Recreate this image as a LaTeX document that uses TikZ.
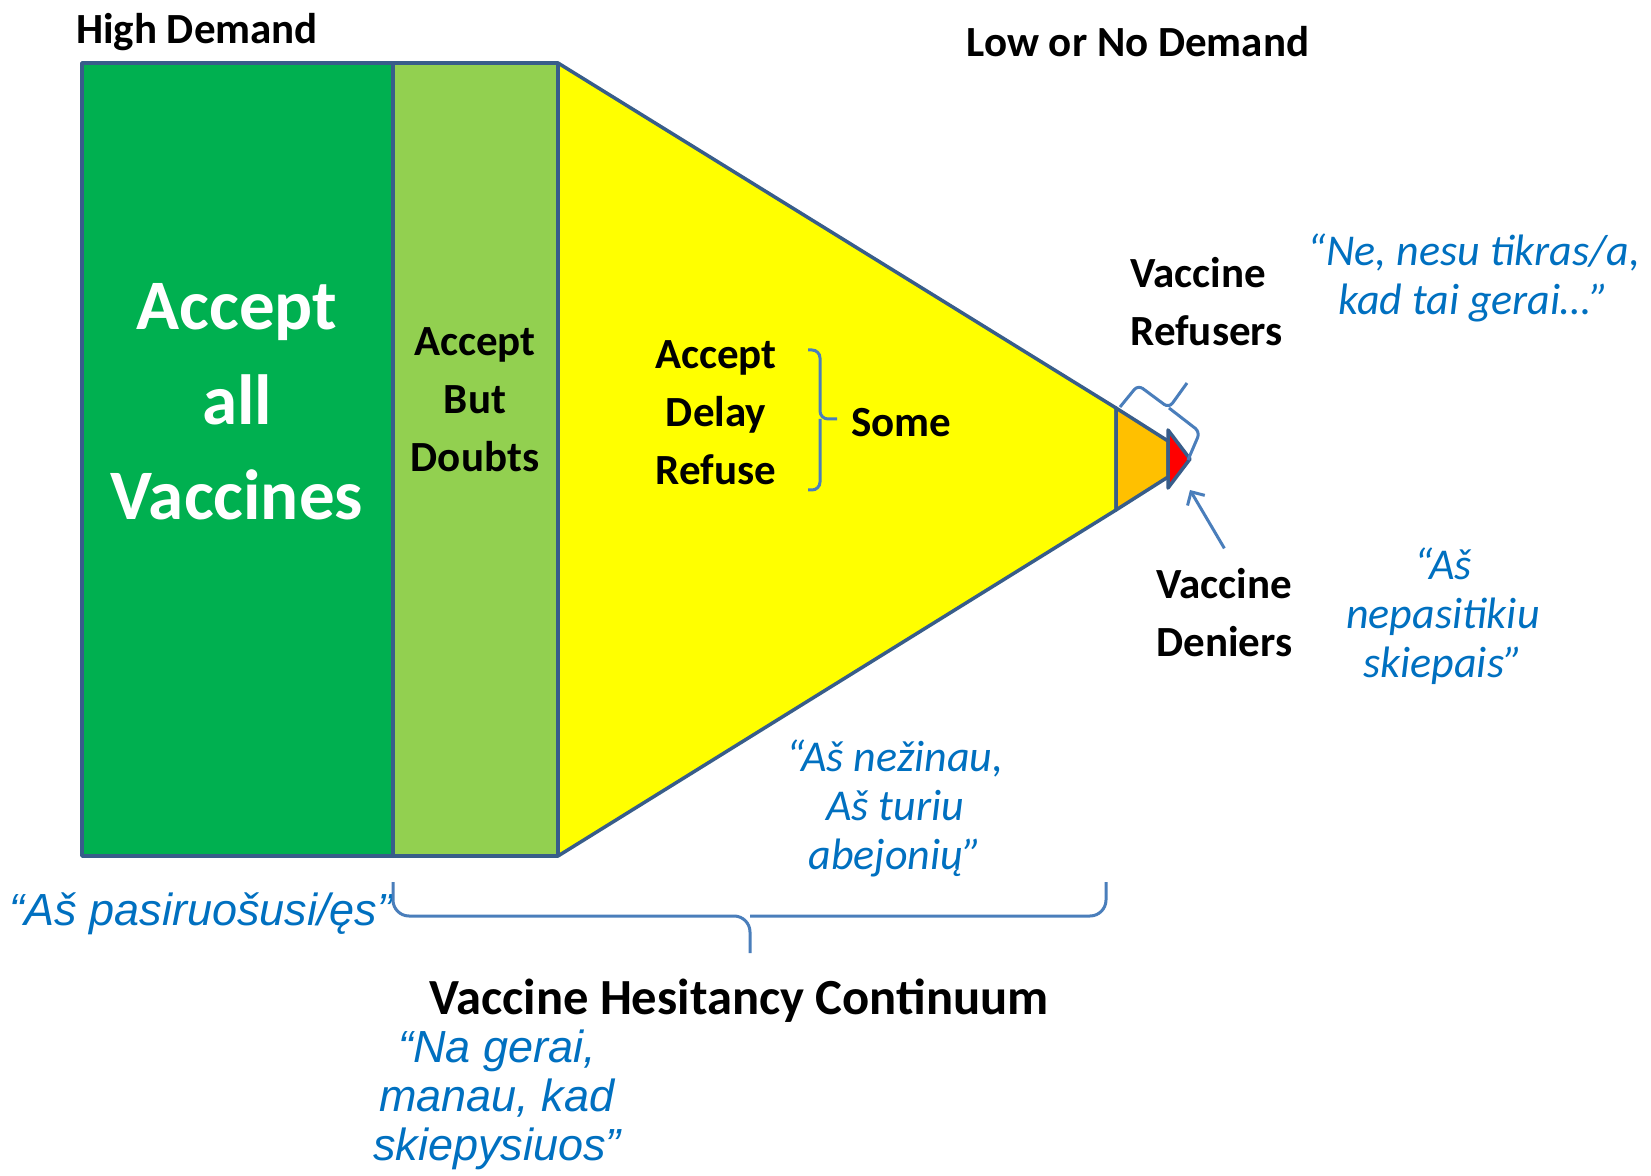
\documentclass[tikz,border=0pt]{standalone}
\usepackage{fontspec}
\setmainfont{Carlito}
\newfontfamily\arialfont{Liberation Sans}
\usepackage{tikz}
\usetikzlibrary{positioning,arrows.meta}
\definecolor{darkgr}{HTML}{00B050}
\definecolor{lightgr}{HTML}{92D050}
\definecolor{yel}{HTML}{FFFF00}
\definecolor{orng}{HTML}{FFC000}
\definecolor{rd}{HTML}{FF0000}
\definecolor{rim}{HTML}{385D8A}
\definecolor{quote}{HTML}{0070C0}
\definecolor{bracecol}{HTML}{4A7EBB}
\tikzstyle{part}=[draw=rim,line width=1.75pt,line join=round]
\tikzstyle{bracket}=[draw=bracecol,line width=1.5pt,rounded corners=4pt]

\begin{document}
\begin{tikzpicture}[x=0.5pt,y=-0.5pt,
            label/.style={font=\fontsize{21.5}{29}\selectfont\bfseries, align=center, inner sep=0pt},
            saying/.style={font=\fontsize{22}{24.5}\selectfont\itshape, text=quote, align=center, inner sep=0pt},
            arsaying/.style={font=\arialfont\fontsize{22.5}{24.5}\selectfont\itshape, text=quote, align=center, inner sep=0pt},
            pointer/.style={draw=bracecol, line width=1.5pt, -{Straight Barb[length=5pt,width=10pt]}}
        ]
            \fill[white] (0,0) rectangle (1651,1176);
            \useasboundingbox (0,0) rectangle (1651,1176);

            % the continuum shapes
            \draw [part,fill=darkgr] (82,63) rectangle (393,856);
            \draw [part,fill=lightgr] (393,63) rectangle (558,856);
            \draw [part,fill=yel] (558,63) -- (1116,408) -- (1116,510) -- (558,856) -- cycle;
            \draw [part,fill=orng] (1116,408) -- (1168,441) -- (1168,477) -- (1116,510) -- cycle;
            \draw [part,fill=rd] (1168,430) -- (1190,459) -- (1168,488) -- cycle;
            \coordinate (redtip) at (1190,490);

            % labels
            \node [label] (high) at (197,32) {High Demand};
            \node [label] (low) at (1138,42) {Low or No Demand};
            \node [label,text=white,font=\fontsize{35.5}{47.5}\selectfont\bfseries] (allvac) at (237,402) {Accept\\all\\Vaccines};
            \node [label] (doubts) at (475,400) {Accept\\But\\Doubts};
            \node [label] (delay) at (716,413) {Accept\\Delay\\Refuse};
            \node [label,anchor=west] (some) at (851,423) {Some};
            \node [label,align=left,anchor=west] (refusers) at (1130,302) {Vaccine\\Refusers};
            \node [label,align=left,anchor=west] (deniers) at (1156,613) {Vaccine\\Deniers};
            \node [label,font=\fontsize{25.3}{30}\selectfont\bfseries] (continuum) at (739,1001) {Vaccine Hesitancy Continuum};

            % sayings
            \node [saying] (unsure) at (1474,278) {“Ne, nesu tikras/a,\\kad tai gerai…”};
            \node [saying] (distrust) at (1443,616) {“Aš\\nepasitikiu\\skiepais”};
            \node [saying] (dontknow) at (895,808) {“Aš nežinau,\\Aš turiu\\abejonių”};
            \node [arsaying] (ready) at (201,914) {“Aš pasiruošusi/ęs”};
            \node [arsaying] (fine) at (497,1100) {“Na gerai,\\manau, kad\\skiepysiuos”};

            % braces
            \draw [bracket] (808,350) -| (820,419) -- (837,419) (820,419) |- (808,490);
            \draw [bracket,rounded corners=3pt] (1120,407) -- (1138,385) -- (1169,408) -- (1187,383) (1169,408) -- (1200,432) -- (1188,460);
            \draw [bracket,rounded corners=8pt] (393,882) |- (750,916) -- (750,953) (750,916) -| (1106,882);
            \draw [pointer] ([yshift=10pt]deniers.north) -- (redtip);
        \end{tikzpicture}
\end{document}
